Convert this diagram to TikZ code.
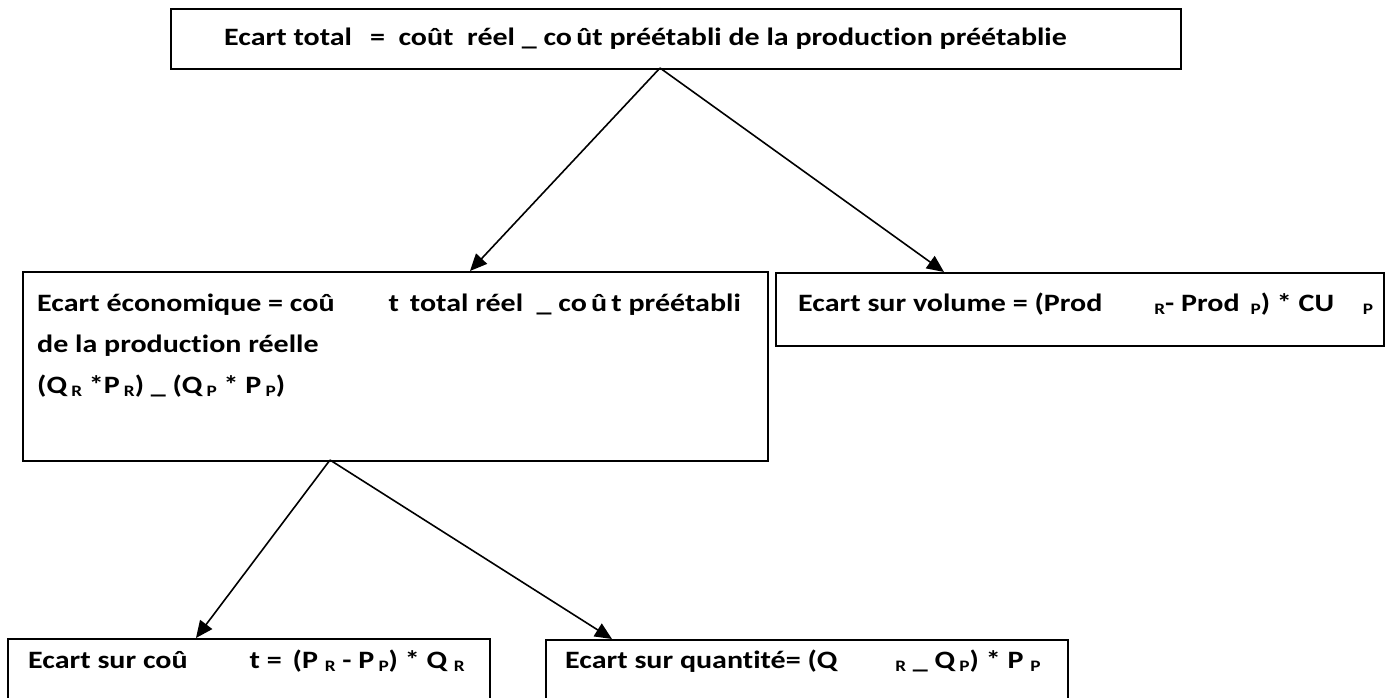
\documentclass[tikz,border=0pt]{standalone}
\usepackage{fontspec}
\setmainfont{Carlito}[FakeStretch=1.2, Ligatures={NoCommon}]
\usetikzlibrary{arrows.meta}
\newcommand\sbs[1]{\raisebox{-3pt}{\fontsize{16}{17}\selectfont #1}}
\begin{document}
\begin{tikzpicture}[x=1pt,y=-1pt,
  box/.style={draw, line width=1.6pt, inner sep=0pt, anchor=north west},
  arr/.style={-{Triangle[length=17pt,width=15pt]}, line width=1.6pt},
  txt/.style={anchor=base west, inner sep=0pt, font=\fontsize{25}{29}\selectfont\bfseries}]
\useasboundingbox (0,0) rectangle (1391,698);
% boxes
\node[box, minimum width=1010pt, minimum height=60pt] (top) at (170,8) {};
\node[box, minimum width=745pt, minimum height=189pt] (eco) at (22,271) {};
\node[box, minimum width=608pt, minimum height=73pt] (vol) at (775,272) {};
\node[box, minimum width=482pt, minimum height=75pt] (cout) at (7,638) {};
\node[box, minimum width=522pt, minimum height=75pt] (qte) at (545,639) {};
% texts
\node[txt] (t0) at (224,46) {Ecart total\hspace{18pt}= \ coût \ réel \textunderscore\ co\,ût préétabli de la production préétablie};
\node[txt] (t1) at (37,311) {Ecart économique = coû\hspace{54pt}t \,total réel \ \textunderscore\ co\,û\,t préétabli};
\node[txt] (t2) at (37,352) {de la production réelle};
\node[txt] (t3) at (37,393) {(Q\,\sbs{R} *P\,\sbs{R}) \textunderscore\ (Q\,\sbs{P} * P\,\sbs{P})};
\node[txt] (t4) at (798,311) {Ecart sur volume = (Prod\hspace{52pt}\sbs{R}- Prod \,\sbs{P}) * CU \hspace{22pt}\sbs{P}};
\node[txt] (t5) at (28,668) {Ecart sur coû\hspace{62pt}t = \,(P \sbs{R} - P\,\sbs{P}) * Q \sbs{R}};
\node[txt] (t6) at (565,668) {Ecart sur quantité= (Q\hspace{58pt}\sbs{R} \textunderscore\ Q\,\sbs{P}) * P \sbs{P}};
% connectors
\coordinate (o1) at (660,68);
\coordinate (a1) at (470,271);
\coordinate (a2) at (944,272);
\coordinate (o2) at (330,460);
\coordinate (a3) at (196,638);
\coordinate (a4) at (612,639);
\draw[arr] (o1) -- (a1);
\draw[arr] (o1) -- (a2);
\draw[arr] (o2) -- (a3);
\draw[arr] (o2) -- (a4);
\end{tikzpicture}
\end{document}
